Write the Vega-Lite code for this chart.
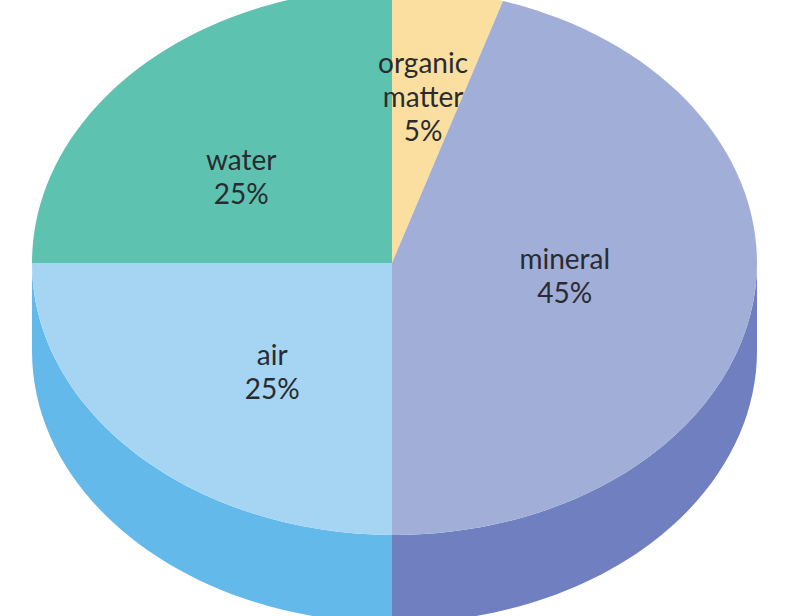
{
"$schema":"https://vega.github.io/schema/vega-lite/v6.json",
"width":786,"height":616,"autosize":"none","padding":0,"background":"white",
"config":{"view":{"stroke":null}},
"data":{"values":[
{"order":1,"name":"organic matter","share":5,"lines":["organic","matter","5%"]},
{"order":2,"name":"mineral","share":45,"lines":["mineral","45%"]},
{"order":3,"name":"air","share":25,"lines":["air","25%"]},
{"order":4,"name":"water","share":25,"lines":["water","25%"]}
]},
"transform":[
{"window":[{"op":"sum","field":"share","as":"cum"}],"sort":[{"field":"order","order":"ascending"}]},
{"calculate":"(datum.cum-datum.share/2)/100*2*PI","as":"mid"},
{"calculate":"0.53*sin(datum.mid)","as":"lx"},
{"calculate":"0.53*cos(datum.mid)","as":"ly"}
],
"layer":[
{"transform":[{"filter":{"field":"name","oneOf":["mineral","air"]}}],
 "mark":{"type":"point","filled":true,"opacity":1,"strokeWidth":0},
 "encoding":{
  "x":{"datum":0,"type":"quantitative","axis":null,"scale":{"domain":[-1.0814,1.0869],"nice":false,"zero":false}},
  "y":{"datum":0,"type":"quantitative","axis":null,"scale":{"domain":[-1.2978,0.9669],"nice":false,"zero":false}},
  "size":{"value":4},
  "shape":{"field":"name","type":"nominal","legend":null,"scale":{"domain":["mineral","air"],"range":[
   "M0,272 A362.5,272 0 0 0 365,0 L365,88 A362.5,272 0 0 1 0,360 Z",
   "M-360,0 A362.5,272 0 0 0 0,272 L0,360 A362.5,272 0 0 1 -360,88 Z"]}},
  "color":{"field":"name","type":"nominal","legend":null,"scale":{"domain":["mineral","air"],"range":["#6F7FBF","#63BAEA"]}}
 }},
{"mark":{"type":"point","filled":true,"opacity":1,"strokeWidth":0},
 "encoding":{
  "x":{"datum":0,"type":"quantitative","axis":null,"scale":{"domain":[-1.0814,1.0869],"nice":false,"zero":false}},
  "y":{"datum":0,"type":"quantitative","axis":null,"scale":{"domain":[-1.2978,0.9669],"nice":false,"zero":false}},
  "size":{"value":4},
  "shape":{"field":"name","type":"nominal","legend":null,"scale":{"domain":["organic matter","mineral","air","water"],"range":[
   "M0,0 L0,-275 A362.5,275 0 0 1 111,-262 Z",
   "M0,0 L111,-262 A362.5,275 0 0 1 365,0 A362.5,272 0 0 1 0,272 Z",
   "M0,0 L0,272 A362.5,272 0 0 1 -360,0 Z",
   "M0,0 L-360,0 A362.5,275 0 0 1 0,-275 Z"]}},
  "color":{"field":"name","type":"nominal","legend":null,"scale":{"domain":["organic matter","mineral","air","water"],"range":["#FBDFA0","#A1AED7","#A5D5F3","#5DC3B0"]}}
 }},
{"transform":[{"filter":"datum.name==='organic matter'"}],
 "mark":{"type":"text","font":"Lato","fontSize":28,"lineHeight":34,"color":"#2A2B30","baseline":"middle","dx":1,"dy":-56},
 "encoding":{"x":{"field":"lx","type":"quantitative"},"y":{"field":"ly","type":"quantitative"},"text":{"field":"lines"}}},
{"transform":[{"filter":"datum.name==='mineral'"}],
 "mark":{"type":"text","font":"Lato","fontSize":28,"lineHeight":34,"color":"#2A2B30","baseline":"middle","dx":-17,"dy":-25},
 "encoding":{"x":{"field":"lx","type":"quantitative"},"y":{"field":"ly","type":"quantitative"},"text":{"field":"lines"}}},
{"transform":[{"filter":"datum.name==='air'"}],
 "mark":{"type":"text","font":"Lato","fontSize":28,"lineHeight":34,"color":"#2A2B30","baseline":"middle","dx":16,"dy":-8},
 "encoding":{"x":{"field":"lx","type":"quantitative"},"y":{"field":"ly","type":"quantitative"},"text":{"field":"lines"}}},
{"transform":[{"filter":"datum.name==='water'"}],
 "mark":{"type":"text","font":"Lato","fontSize":28,"lineHeight":34,"color":"#2A2B30","baseline":"middle","dx":-15,"dy":1},
 "encoding":{"x":{"field":"lx","type":"quantitative"},"y":{"field":"ly","type":"quantitative"},"text":{"field":"lines"}}}
],
"resolve":{"scale":{"shape":"independent","color":"independent"}}
}
